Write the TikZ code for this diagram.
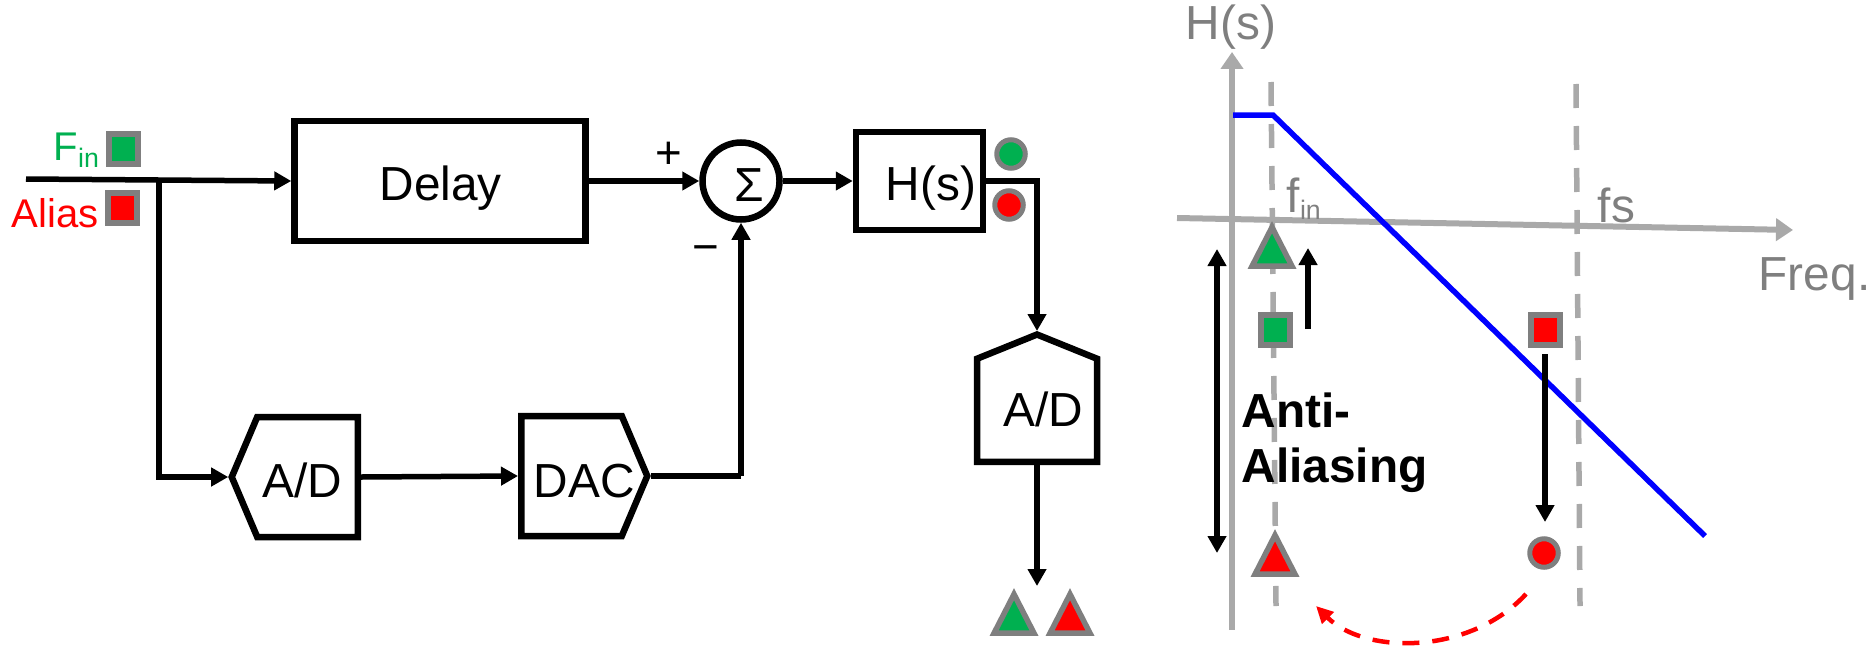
\documentclass[tikz,border=0pt]{standalone}
\usepackage{fontspec}
\setmainfont{Liberation Sans}
\usetikzlibrary{arrows.meta,shapes.symbols,shapes.geometric}
\definecolor{fgreen}{HTML}{00B050}
\definecolor{mgray}{HTML}{7F7F7F}
\definecolor{agray}{HTML}{A9A9A9}
\def\big{\fontsize{13.6}{16}\selectfont}
\def\mid{\fontsize{11.4}{14}\selectfont}
\newcommand{\subin}{\raisebox{-0.075cm}{\fontsize{7.6}{9}\selectfont in}}
\tikzstyle{wire}=[line width=0.055cm,-{Triangle[length=0.17cm,width=0.18cm]}]
\tikzstyle{plainwire}=[line width=0.055cm]
\tikzstyle{axis}=[line width=0.06cm,agray,-{Triangle[length=0.17cm,width=0.22cm]}]
\tikzstyle{fline}=[line width=0.055cm,agray,dash pattern=on 0.24cm off 0.18cm]
\tikzstyle{block}=[draw,line width=0.065cm,inner sep=0pt]
\tikzstyle{conv}=[block,signal,signal from=nowhere]
\tikzstyle{txt}=[anchor=base west,inner sep=0pt,font=\big]
\tikzstyle{gtxt}=[txt,text=mgray]
\tikzstyle{marksq}=[draw=mgray,line width=0.06cm,inner sep=0pt,minimum width=0.29cm,minimum height=0.30cm]
\tikzstyle{markci}=[draw=mgray,line width=0.05cm,circle,inner sep=0pt,minimum size=0.285cm]
\tikzstyle{marktr}=[draw=mgray,line width=0.055cm,isosceles triangle,isosceles triangle apex angle=56,
                    isosceles triangle stretches,shape border rotate=90,inner sep=0pt,
                    minimum width=0.40cm,minimum height=0.39cm]

\begin{document}
\begin{tikzpicture}
  \useasboundingbox (0,0) rectangle (18.66,6.46);
  % Place input labels
  \node[txt,font=\mid,text=fgreen] (fin) at (0.53,4.86) {F\subin};
  \node[txt,font=\mid,text=red] (alias) at (0.11,4.19) {Alias};
  \node[marksq,fill=fgreen] (sqin) at (1.235,4.97) {};
  \node[marksq,fill=red] (sqal) at (1.225,4.38) {};

  % Place blocks
  \node[block,minimum width=2.91cm,minimum height=1.20cm] (delay) at (4.40,4.65) {};
  \node[block,circle,minimum size=0.77cm] (sum) at (7.41,4.65) {};
  \node[block,minimum width=1.27cm,minimum height=0.98cm] (hs) at (9.195,4.65) {};
  \node[conv,signal to=west,signal pointer angle=134,minimum width=1.26cm,minimum height=1.20cm,anchor=east] (ad) at (3.61,1.69) {};
  \node[conv,signal to=east,signal pointer angle=134,minimum width=1.26cm,minimum height=1.20cm,anchor=west] (dac) at (5.18,1.70) {};
  \node[conv,signal to=north,signal pointer angle=136,minimum width=1.20cm,minimum height=1.03cm,anchor=north] (adb) at (10.37,3.15) {};

  % Block texts
  \node[txt] (delaytxt) at (3.79,4.46) {Delay};
  \node[txt] (sumtxt) at (7.34,4.45) {Σ};
  \node[txt] (hstxt) at (8.85,4.46) {H(s)};
  \node[txt] (adtxt) at (2.62,1.49) {A/D};
  \node[txt] (dactxt) at (5.33,1.49) {DAC};
  \node[txt] (adbtxt) at (10.03,2.20) {A/D};
  \node[txt,font=\fontsize{13}{15}\selectfont] (plus) at (6.55,4.78) {+};
  \node[txt,font=\fontsize{13}{15}\selectfont] (minus) at (6.92,3.84) {−};

  % Connect blocks
  \coordinate (inl) at (0.26,4.67);
  \coordinate (br) at (1.59,4.66);
  \coordinate (cr) at (7.41,1.70);
  \draw[wire] (inl) -- (delay.west);
  \draw[wire] (br) |- (ad.west);
  \draw[wire] (ad.east) -- (dac.west);
  \draw[plainwire] (dac.east) -- (cr);
  \draw[wire] (cr) -- (sum.south);
  \draw[wire] (delay.east) -- (sum.west);
  \draw[wire] (sum.east) -- (hs.west);
  \draw[wire] (hs.east) -| (adb.north);
  \coordinate (adout) at (10.37,0.60);
  \draw[wire] (adb.south) -- (adout);

  % Output markers
  \node[markci,fill=fgreen] (cigo) at (10.11,4.92) {};
  \node[markci,fill=red] (ciro) at (10.09,4.41) {};
  \node[marktr,fill=fgreen] (trgo) at (10.14,0.25) {};
  \node[marktr,fill=red] (trro) at (10.70,0.25) {};

  % Frequency plot
  \coordinate (fa) at (12.71,5.64);
  \coordinate (fb) at (12.76,0.40);
  \coordinate (sa) at (15.76,5.62);
  \coordinate (sb) at (15.80,0.40);
  \draw[fline] (fa) -- (fb);
  \draw[fline] (sa) -- (sb);
  \coordinate (yb) at (12.32,0.16);
  \coordinate (yt) at (12.32,5.94);
  \coordinate (xl) at (11.77,4.28);
  \coordinate (xr) at (17.93,4.16);
  \draw[axis] (yb) -- (yt);
  \draw[axis] (xl) -- (xr);
  \coordinate (ba) at (12.33,5.31);
  \coordinate (bb) at (12.73,5.31);
  \coordinate (bc) at (17.05,1.10);
  \draw[line width=0.055cm,blue] (ba) -- (bb) -- (bc);
  \node[gtxt] (htxt) at (11.85,6.06) {H(s)};
  \node[gtxt] (fintxt) at (12.86,4.34) {f\subin};
  \node[gtxt] (fstxt) at (15.97,4.24) {fs};
  \node[gtxt] (freq) at (17.58,3.56) {Freq.};
  \node[txt,font=\big\bfseries] (anti) at (12.41,2.19) {Anti-};
  \node[txt,font=\big\bfseries] (alia) at (12.41,1.64) {Aliasing};

  % Plot markers
  \node[marktr,fill=fgreen] (trg) at (12.72,3.92) {};
  \node[marksq,fill=fgreen] (sqg) at (12.75,3.16) {};
  \node[marksq,fill=red] (sqr) at (15.45,3.16) {};
  \node[markci,fill=red] (cir) at (15.44,0.93) {};
  \node[marktr,fill=red] (trr) at (12.75,0.84) {};

  % Arrows in plot
  \coordinate (ua) at (13.08,3.17);
  \coordinate (ub) at (13.08,3.98);
  \draw[wire] (ua) -- (ub);
  \coordinate (da) at (12.17,3.97);
  \coordinate (db) at (12.17,0.93);
  \draw[wire,{Triangle[length=0.17cm,width=0.18cm]}-{Triangle[length=0.17cm,width=0.18cm]}] (da) -- (db);
  \coordinate (ea) at (15.45,2.92);
  \coordinate (eb) at (15.45,1.24);
  \draw[wire] (ea) -- (eb);
  \coordinate (ra) at (15.26,0.52);
  \coordinate (rb) at (13.16,0.40);
  \draw[line width=0.045cm,red,dash pattern=on 0.17cm off 0.13cm,-{Triangle[length=0.17cm,width=0.16cm]}]
    (ra) .. controls (14.70,-0.09) and (13.65,-0.09) .. (rb);
\end{tikzpicture}
\end{document}
